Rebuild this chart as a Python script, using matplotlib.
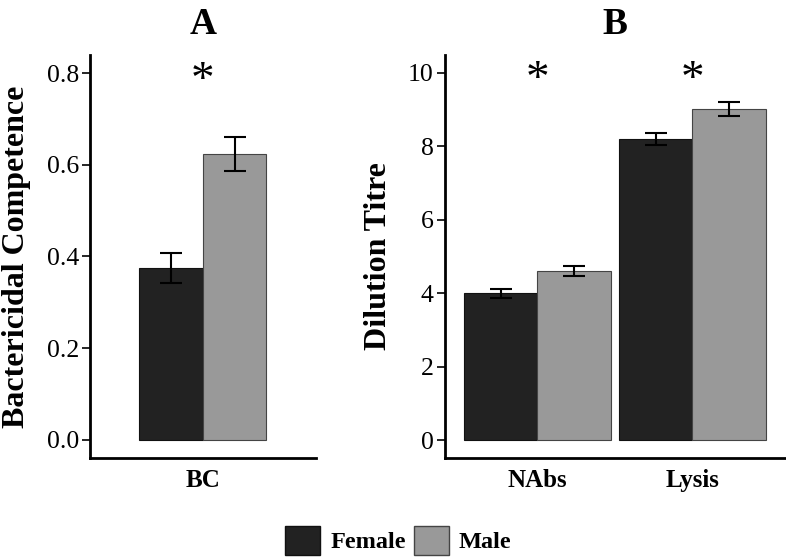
import numpy as np
import matplotlib
matplotlib.use('Agg')
import matplotlib.pyplot as plt
from matplotlib.patches import Patch

plt.rcParams['font.family'] = 'Liberation Serif'

# panel A: bactericidal competence
categories_a = ['BC']
female_a = [0.375]
female_a_err = [0.033]
male_a = [0.623]
male_a_err = [0.037]
sig_a = [True]

# panel B: dilution titres
categories_b = ['NAbs', 'Lysis']
female_b = [4.0, 8.2]
female_b_err = [0.12, 0.17]
male_b = [4.6, 9.02]
male_b_err = [0.14, 0.19]
sig_b = [True, True]

female_col = '#222222'
male_col = '#999999'


def draw_panel(ax, cats, fvals, ferr, mvals, merr, sig, star_y, title, ylabel,
               ylim, yticks, yfmt, half):
    x = np.arange(1, len(cats) + 1)
    w = 0.475
    ax.bar(x - w / 2, fvals, w, color=female_col, edgecolor='#111111', linewidth=0.8)
    ax.bar(x + w / 2, mvals, w, color=male_col, edgecolor='#444444', linewidth=0.8)
    ax.errorbar(x - w / 2, fvals, yerr=ferr, fmt='none', ecolor='black',
                elinewidth=1.5, capsize=8, capthick=1.5)
    ax.errorbar(x + w / 2, mvals, yerr=merr, fmt='none', ecolor='black',
                elinewidth=1.5, capsize=8, capthick=1.5)
    for xi, s in zip(x, sig):
        if s:
            ax.text(xi, star_y, '*', ha='center', va='center', fontsize=34)
    ax.set_xlim(x.mean() - half, x.mean() + half)
    ax.set_ylim(*ylim)
    ax.set_yticks(yticks)
    ax.set_yticklabels([yfmt.format(t) for t in yticks])
    ax.set_xticks(x)
    ax.set_xticklabels(cats, fontweight='bold', fontsize=18)
    ax.tick_params(axis='x', length=0, pad=8)
    ax.tick_params(axis='y', length=6, width=1.2, labelsize=18.5, pad=2)
    for s in ['top', 'right']:
        ax.spines[s].set_visible(False)
    for s in ['left', 'bottom']:
        ax.spines[s].set_linewidth(2.0)
    ax.set_title(title, fontweight='bold', fontsize=27, pad=15)
    ax.set_ylabel(ylabel, fontweight='bold', fontsize=23, labelpad=11)


fig = plt.figure(figsize=(7.86, 5.6), dpi=100)
ax_a = fig.add_axes([0.1145, 0.182, 0.2875, 0.720])
ax_b = fig.add_axes([0.566, 0.182, 0.4326, 0.720])

draw_panel(ax_a, categories_a, female_a, female_a_err, male_a, male_a_err, sig_a,
           0.781, 'A', 'Bactericidal Competence', (-0.04, 0.84),
           [0.0, 0.2, 0.4, 0.6, 0.8], '{:.1f}', 0.845)
draw_panel(ax_b, categories_b, female_b, female_b_err, male_b, male_b_err, sig_b,
           9.79, 'B', 'Dilution Titre', (-0.49, 10.49),
           [0, 2, 4, 6, 8, 10], '{:d}', 1.097)

handles = [Patch(facecolor=female_col, edgecolor='#111111', label='Female'),
           Patch(facecolor=male_col, edgecolor='#444444', label='Male')]
leg = fig.legend(handles=handles, loc='center', bbox_to_anchor=(0.507, 0.035),
                 ncol=2, frameon=False, prop={'weight': 'bold', 'size': 17.5},
                 handlelength=1.44, handleheight=1.44, handletextpad=0.4,
                 columnspacing=0.35)

fig.savefig('out.png', dpi=100)
